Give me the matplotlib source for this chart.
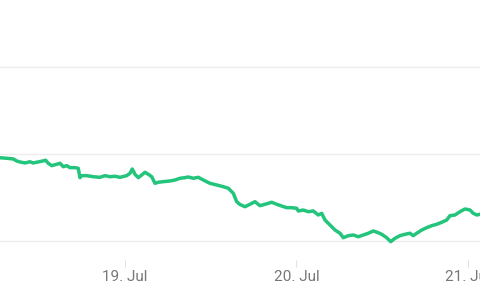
import pandas as pd
import matplotlib
matplotlib.use("Agg")
import matplotlib.pyplot as plt
import matplotlib.dates as mdates

# hours after 18 Jul 00:00, and the traced price values
hours = [6.51, 7.44, 8.37, 8.84, 9.31, 10.01, 10.70, 11.13, 11.82, 12.52,
         12.90, 13.27, 13.74, 14.44, 14.90, 15.37, 15.84, 16.30, 17.00, 17.46,
         17.70, 17.94, 18.64, 19.56, 20.50, 21.20, 21.90, 22.60, 23.30, 24.24,
         24.70, 25.02, 25.40, 25.86, 26.34, 26.80, 27.26, 27.74, 28.20, 28.66,
         29.36, 30.30, 31.00, 31.70, 32.40, 32.86, 33.56, 34.26, 34.96, 35.89,
         36.83, 37.76, 38.46, 39.16, 39.63, 40.09, 40.79, 41.49, 42.19, 42.89,
         43.59, 44.53, 45.23, 45.93, 46.63, 47.33, 48.03, 48.25, 48.95, 49.65,
         50.35, 51.05, 51.53, 51.99, 52.69, 53.39, 54.09, 54.55, 55.25, 55.95,
         56.65, 57.35, 58.05, 58.75, 59.31, 59.92, 60.62, 61.18, 61.78, 62.48,
         63.18, 63.88, 64.34, 64.82, 65.52, 66.22, 66.92, 67.62, 68.32, 69.02,
         69.48, 70.18, 70.88, 71.58, 72.28, 72.74, 73.22, 73.68]
values = [109.57, 109.51, 109.43, 109.20, 109.08, 108.97, 109.11, 108.97, 109.08, 109.20,
          109.28, 108.93, 108.66, 108.82, 108.93, 108.54, 108.66, 108.43, 108.43, 108.36,
          107.28, 107.51, 107.51, 107.39, 107.32, 107.51, 107.39, 107.44, 107.32, 107.51,
          107.78, 108.28, 107.67, 107.28, 107.59, 107.90, 107.67, 107.39, 106.63, 106.75,
          106.82, 106.90, 107.01, 107.21, 107.28, 107.36, 107.21, 107.32, 107.01, 106.63,
          106.44, 106.24, 106.06, 105.48, 104.52, 104.20, 103.94, 104.22, 104.52, 104.06,
          104.22, 104.45, 104.22, 104.02, 103.83, 103.83, 103.76, 103.45, 103.56, 103.37,
          103.45, 102.99, 103.18, 102.41, 101.84, 101.26, 100.89, 100.38, 100.61, 100.69,
          100.49, 100.69, 100.89, 101.15, 101.00, 100.77, 100.38, 99.92, 100.31, 100.61,
          100.77, 100.89, 100.61, 100.89, 101.26, 101.53, 101.76, 101.92, 102.15, 102.41,
          102.91, 102.99, 103.37, 103.68, 103.56, 103.18, 102.99, 103.07]
grid_values = [100, 110, 120]

base = pd.Timestamp("2021-07-18")
times = base + pd.to_timedelta(hours, unit="h")

fig = plt.figure(figsize=(4.8, 3.0), dpi=100)
ax = fig.add_axes([0, 40 / 300, 1, 260 / 300])

ax.plot(times, values, color="#23c47b", linewidth=2.5, solid_joinstyle="round")

ax.set_xlim(times[0], times[-1])
ax.set_ylim(97.816, 127.70)
ax.set_yticks(grid_values)
ax.yaxis.grid(True, color="#ececec", linewidth=1)
ax.tick_params(axis="y", left=False, labelleft=False)

ax.xaxis.set_major_locator(mdates.DayLocator())
ax.xaxis.set_major_formatter(mdates.DateFormatter("%d. %b"))
ax.tick_params(axis="x", length=5, width=0.8, color="#e2e2e2",
               labelcolor="#777777", labelsize=11, pad=2.5)
for lab in ax.get_xticklabels():
    lab.set_family("Roboto")

for s in ax.spines.values():
    s.set_visible(False)

fig.savefig("out.png", dpi=100, facecolor="white")
